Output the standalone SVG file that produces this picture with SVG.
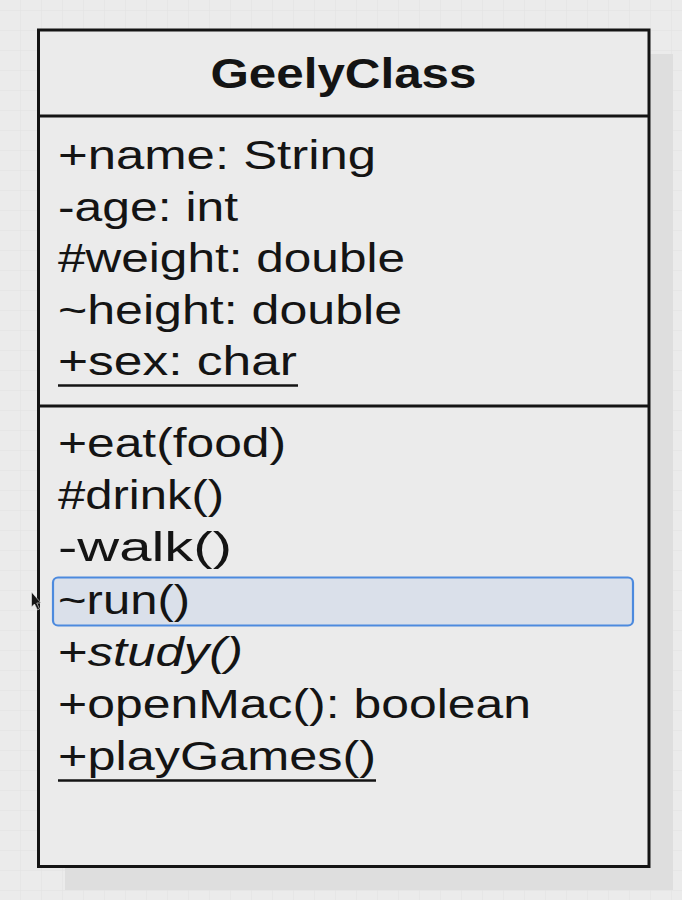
<svg xmlns="http://www.w3.org/2000/svg" width="682" height="900" viewBox="0 0 682 900">
<defs>
<pattern id="grid" x="-1" y="10" width="21" height="20" patternUnits="userSpaceOnUse">
<path d="M0 0V20M0 0H21" fill="none" stroke="#e1e1e1" stroke-width="1"/>
</pattern>
<style>
.t{font-family:"Liberation Sans",Arial,sans-serif;font-size:41px;fill:#141414}
.h{font-family:"Liberation Sans",Arial,sans-serif;font-size:42px;font-weight:bold;fill:#141414}
.u{stroke:#141414;stroke-width:2.5}
.frame{fill:none;stroke:#141414;stroke-width:3}
</style>
</defs>
<rect width="682" height="900" fill="#ebebeb"/>
<rect width="682" height="900" fill="url(#grid)"/>
<g id="GeelyClass">
<rect x="65" y="54" width="608" height="836" fill="#dedede"/>
<rect x="38.5" y="30" width="610.5" height="836.5" fill="#ebebeb"/>
<rect id="highlight" x="53" y="577.5" width="580" height="48" rx="5" fill="#dae0ea" stroke="#4c8ade" stroke-width="2.2"/>
<rect class="frame" x="38.5" y="30" width="610.5" height="836.5"/>
<line class="frame" x1="38.5" y1="116" x2="649" y2="116"/>
<line class="frame" x1="38.5" y1="406" x2="649" y2="406"/>
<text class="h" x="343.5" y="88" text-anchor="middle" textLength="266" lengthAdjust="spacingAndGlyphs">GeelyClass</text>
<text class="t" x="58" y="169" textLength="318" lengthAdjust="spacingAndGlyphs">+name: String</text>
<text class="t" x="58" y="220.5" textLength="180" lengthAdjust="spacingAndGlyphs">-age: int</text>
<text class="t" x="58" y="272" textLength="347" lengthAdjust="spacingAndGlyphs">#weight: double</text>
<text class="t" x="58" y="323.5" textLength="344" lengthAdjust="spacingAndGlyphs">~height: double</text>
<text class="t" x="58" y="375" textLength="239" lengthAdjust="spacingAndGlyphs">+sex: char</text>
<line class="u" x1="58" y1="385.5" x2="298" y2="385.5"/>
<text class="t" x="58" y="457" textLength="228" lengthAdjust="spacingAndGlyphs">+eat(food)</text>
<text class="t" x="58" y="509" textLength="166" lengthAdjust="spacingAndGlyphs">#drink()</text>
<text class="t" x="58" y="561" textLength="174" lengthAdjust="spacingAndGlyphs">-walk()</text>
<text class="t" x="58" y="614" textLength="132" lengthAdjust="spacingAndGlyphs">~run()</text>
<text class="t" x="58" y="666" textLength="185" lengthAdjust="spacingAndGlyphs"><tspan>+</tspan><tspan font-style="italic">study()</tspan></text>
<text class="t" x="58" y="718" textLength="473" lengthAdjust="spacingAndGlyphs">+openMac(): boolean</text>
<text class="t" x="58" y="770" textLength="318" lengthAdjust="spacingAndGlyphs">+playGames()</text>
<line class="u" x1="58" y1="780.5" x2="376" y2="780.5"/>
</g>
<g id="connectors"></g>
<polygon id="cursor" points="31.5,592 31.5,607 34.5,604 37.5,610 39.5,609 36.8,603 41,603" fill="#141414" stroke="#ebebeb" stroke-width="0.6"/>
</svg>
